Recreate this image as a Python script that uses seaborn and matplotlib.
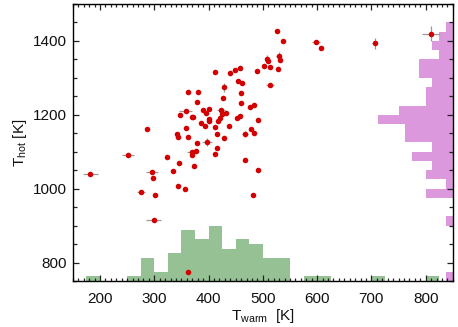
import numpy as np
import matplotlib
matplotlib.use("Agg")
import matplotlib.pyplot as plt
import seaborn as sns
from matplotlib.ticker import MultipleLocator

# ---- data ----
t_warm = [527, 537, 598, 608, 706, 810, 508, 510, 529, 531,
          502, 514, 528, 489, 458, 448, 439, 412, 513, 428,
          454, 461, 362, 381, 459, 426, 379, 460, 476, 484,
          358, 347, 401, 395, 423, 433, 370, 372, 401, 424,
          421, 458, 453, 492, 387, 393, 359, 411, 438, 478,
          483, 467, 287, 341, 344, 362, 415, 428, 379, 397,
          415, 411, 369, 377, 370, 323, 251, 467, 345, 374,
          334, 296, 298, 492, 182, 343, 357, 276, 302, 481,
          299, 362, 401, 389, 417]
t_hot = [1426, 1401, 1396, 1380, 1394, 1420, 1352, 1346, 1359, 1348,
         1331, 1329, 1323, 1319, 1328, 1321, 1314, 1316, 1280, 1274,
         1291, 1286, 1262, 1262, 1260, 1246, 1234, 1232, 1221, 1226,
         1209, 1199, 1216, 1205, 1214, 1204, 1194, 1193, 1189, 1202,
         1190, 1198, 1190, 1185, 1179, 1169, 1163, 1166, 1169, 1161,
         1151, 1148, 1161, 1147, 1141, 1141, 1147, 1137, 1124, 1126,
         1110, 1095, 1098, 1101, 1092, 1087, 1092, 1078, 1069, 1060,
         1049, 1046, 1030, 1051, 1040, 1006, 998, 990, 984, 982,
         915, 773, 1183, 1212, 1182]
warm_err = [0, 0, 8, 0, 5, 17, 4, 0, 5, 0,
            0, 0, 0, 0, 0, 0, 0, 0, 7, 4,
            0, 0, 0, 0, 0, 0, 0, 0, 0, 0,
            12, 0, 0, 0, 7, 0, 0, 0, 0, 0,
            0, 0, 0, 0, 0, 0, 0, 0, 0, 0,
            0, 6, 0, 0, 0, 0, 0, 0, 0, 9,
            0, 0, 9, 0, 0, 0, 11, 0, 0, 0,
            0, 11, 0, 0, 14, 0, 0, 7, 0, 0,
            14, 0, 0, 0, 0]
hot_err = [0, 0, 0, 0, 15, 21, 10, 0, 10, 0,
           0, 0, 0, 0, 0, 0, 0, 0, 0, 11,
           0, 0, 0, 0, 0, 0, 0, 0, 0, 0,
           0, 0, 0, 0, 0, 0, 0, 0, 0, 0,
           0, 0, 0, 0, 0, 0, 0, 0, 0, 0,
           0, 8, 0, 0, 0, 0, 0, 0, 0, 11,
           0, 0, 0, 0, 0, 0, 0, 0, 0, 0,
           0, 0, 0, 0, 0, 0, 0, 0, 0, 0,
           0, 0, 0, 0, 0]
warm_bin_edges = list(range(150, 875, 25))
hot_bin_edges = list(range(750, 1525, 25))
x_ticks = [200, 300, 400, 500, 600, 700, 800]
y_ticks = [800, 1000, 1200, 1400]

# ---- style ----
sns.set_style("ticks")
plt.rcParams["font.family"] = ["Liberation Sans", "DejaVu Sans"]
plt.rcParams["mathtext.fontset"] = "custom"
plt.rcParams["mathtext.rm"] = "Liberation Sans"
plt.rcParams["mathtext.it"] = "Liberation Sans:italic"
for k in ["text.color", "axes.labelcolor", "xtick.color", "ytick.color"]:
    plt.rcParams[k] = "#111111"

red = "#d20000"
green = "#95c195"
pink = "#dc98dc"

fig = plt.figure(figsize=(4.58, 3.27), dpi=100)
fig.patch.set_facecolor("white")
ax = fig.add_axes([0.159, 0.1407, 0.8297, 0.8471])

# histogram axes (behind main)
ax2 = ax.twinx()
ax3 = ax.twiny()
sns.histplot(x=t_warm, bins=warm_bin_edges, ax=ax2, element="step", fill=True,
             color=green, alpha=1, linewidth=0)
sns.histplot(y=t_hot, bins=hot_bin_edges, ax=ax3, element="step", fill=True,
             color=pink, alpha=1, linewidth=0)

# error bars and points
tw = np.array(t_warm); th = np.array(t_hot)
we = np.array(warm_err); he = np.array(hot_err)
m = (we > 0) | (he > 0)
ax.errorbar(tw[m], th[m], xerr=we[m], yerr=he[m], fmt="none",
            ecolor="#999999", elinewidth=0.9, capsize=0, zorder=2)
sns.scatterplot(x=t_warm, y=t_hot, ax=ax, color=red, s=16, linewidth=0, zorder=3)

ax.set_zorder(3)
ax.patch.set_visible(False)
ax2.set_zorder(1)
ax3.set_zorder(1)

ax2.set_ylim(0, 60)
ax3.set_xlim(56, 0)
ax2.axis("off")
ax3.axis("off")
ax.set_xlim(150, 850)
ax.set_ylim(750, 1500)

ax.set_xticks(x_ticks)
ax.set_yticks(y_ticks)
ax.xaxis.set_minor_locator(MultipleLocator(10))
ax.yaxis.set_minor_locator(MultipleLocator(50))
ax.tick_params(which="both", direction="in", top=True, right=True,
               labelsize=11, color="#222222", labelcolor="#111111", width=0.9)
ax.tick_params(axis="x", which="major", length=4, pad=8)
ax.tick_params(axis="x", which="minor", length=2.2)
ax.tick_params(axis="y", which="major", length=4.5, pad=4)
ax.tick_params(axis="y", which="minor", length=3)
for s in ax.spines.values():
    s.set_visible(True)
    s.set_linewidth(1.0)
    s.set_color("black")

ax.set_xlabel(r"T$_{\rm warm}$  [K]", fontsize=11, labelpad=1, color="#111111")
ax.set_ylabel(r"T$_{\rm hot}$ [K]", fontsize=11, labelpad=3, color="#111111")

fig.savefig("out.png", dpi=100)
